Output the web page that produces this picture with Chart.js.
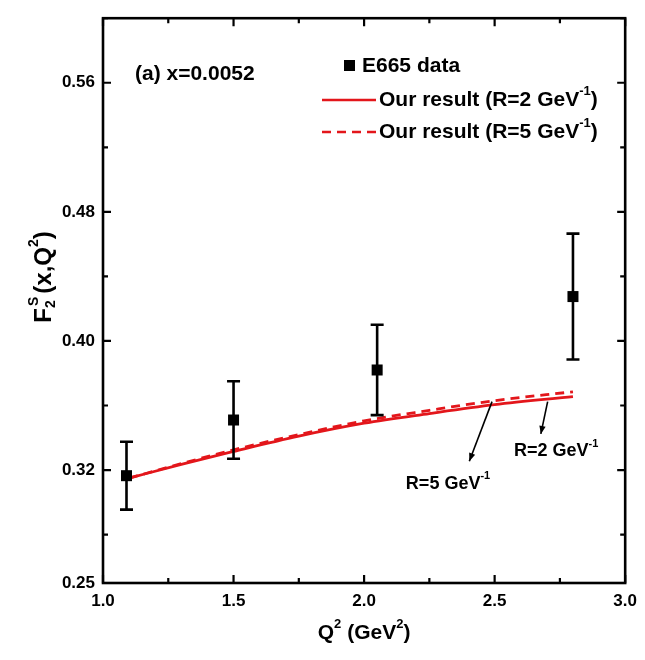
<!DOCTYPE html>
<html><head><meta charset="utf-8">
<script src="https://cdn.jsdelivr.net/npm/chart.js@4/dist/chart.umd.min.js"></script>
<style>html,body{margin:0;padding:0;background:#fff}#wrap{width:645px;height:660px;position:relative}</style>
</head><body><div id="wrap"><canvas id="c" width="645" height="660"></canvas></div>
<script>
// ---- data ----
const q2Data = [1.09, 1.5, 2.05, 2.8];
const f2Data = [0.3165, 0.351, 0.382, 0.4275];
const f2Err  = [0.021, 0.024, 0.028, 0.039];
const q2Curve = [1.1, 1.3, 1.5, 1.75, 2.0, 2.25, 2.5, 2.8];
const f2R2    = [0.315, 0.3235, 0.3315, 0.341, 0.349, 0.355, 0.3605, 0.3655];
const f2R5    = [0.315, 0.324, 0.3325, 0.342, 0.3505, 0.357, 0.363, 0.3685];
const xTicks  = [1.0, 1.25, 1.5, 1.75, 2.0, 2.25, 2.5, 2.75, 3.0];
const xLabels = [1.0, 1.5, 2.0, 2.5, 3.0];
const yTicks  = [0.25, 0.28, 0.32, 0.36, 0.40, 0.44, 0.48, 0.52, 0.56, 0.60];
const yLabels = [0.25, 0.32, 0.40, 0.48, 0.56];
const seriesNames = ['E665 data', 'Our result (R=2 GeV', 'Our result (R=5 GeV'];
const panelLabel = '(a) x=0.0052';

const RED = '#e3161b';
const FONT = '"Liberation Sans", Arial, sans-serif';
const isIn = (arr, v) => arr.some(a => Math.abs(a - v) < 1e-9);

function drawRich(ctx, parts, x, y, size, align) {
  ctx.save();
  ctx.textBaseline = 'middle';
  ctx.textAlign = 'left';
  let w = 0;
  const meas = parts.map(p => {
    const fs = (p.sup || p.sub) ? Math.round(size * 0.6) : size;
    ctx.font = 'bold ' + fs + 'px ' + FONT;
    return {fs, mw: ctx.measureText(p.t).width};
  });
  parts.forEach((p, i) => { if (!p.stack) w += meas[i].mw; });
  let cx = align === 'center' ? x - w / 2 : x;
  parts.forEach((p, i) => {
    const m = meas[i];
    ctx.font = 'bold ' + m.fs + 'px ' + FONT;
    let dy = 0;
    if (p.sup) dy = -size * 0.42;
    if (p.sub) dy = size * 0.3;
    ctx.fillText(p.t, cx + (p.dx || 0), y + dy);
    if (!p.stack) cx += m.mw;
  });
  ctx.restore();
}

function arrow(ctx, x1, y1, x2, y2) {
  ctx.save();
  ctx.strokeStyle = '#000'; ctx.fillStyle = '#000'; ctx.lineWidth = 1.6;
  ctx.beginPath(); ctx.moveTo(x1, y1); ctx.lineTo(x2, y2); ctx.stroke();
  const a = Math.atan2(y2 - y1, x2 - x1), L = 8, W = 3.2;
  ctx.beginPath();
  ctx.moveTo(x2, y2);
  ctx.lineTo(x2 - L * Math.cos(a) + W * Math.sin(a), y2 - L * Math.sin(a) - W * Math.cos(a));
  ctx.lineTo(x2 - L * Math.cos(a) - W * Math.sin(a), y2 - L * Math.sin(a) + W * Math.cos(a));
  ctx.closePath(); ctx.fill();
  ctx.restore();
}

const decor = {
  id: 'decor',
  afterDatasetsDraw(chart) {
    const ctx = chart.ctx, xs = chart.scales.x, ys = chart.scales.y;
    const a = chart.chartArea;
    ctx.save();
    // error bars + markers
    ctx.strokeStyle = '#000'; ctx.lineWidth = 2.6;
    q2Data.forEach((q, i) => {
      const px = xs.getPixelForValue(q);
      const top = ys.getPixelForValue(f2Data[i] + f2Err[i]);
      const bot = ys.getPixelForValue(f2Data[i] - f2Err[i]);
      ctx.beginPath();
      ctx.moveTo(px, top); ctx.lineTo(px, bot);
      ctx.moveTo(px - 6.5, top); ctx.lineTo(px + 6.5, top);
      ctx.moveTo(px - 6.5, bot); ctx.lineTo(px + 6.5, bot);
      ctx.stroke();
      ctx.fillStyle = '#000';
      ctx.fillRect(px - 5.5, ys.getPixelForValue(f2Data[i]) - 5.5, 11, 11);
    });
    // frame
    ctx.lineWidth = 2.6;
    ctx.strokeRect(a.left, a.top, a.right - a.left, a.bottom - a.top);
    // inward ticks on all four sides
    ctx.lineWidth = 2.2;
    xTicks.forEach(v => {
      const px = xs.getPixelForValue(v);
      const L = isIn(xLabels, v) ? 8 : 5;
      ctx.beginPath();
      ctx.moveTo(px, a.bottom); ctx.lineTo(px, a.bottom - L);
      ctx.moveTo(px, a.top); ctx.lineTo(px, a.top + L);
      ctx.stroke();
    });
    yTicks.forEach(v => {
      const py = ys.getPixelForValue(v);
      const L = isIn(yLabels, v) && v > 0.26 ? 8 : 5;
      ctx.beginPath();
      ctx.moveTo(a.left, py); ctx.lineTo(a.left + L, py);
      ctx.moveTo(a.right, py); ctx.lineTo(a.right - L, py);
      ctx.stroke();
    });
    ctx.fillStyle = '#000';
    // panel label
    drawRich(ctx, [{t: panelLabel}], 135, 74, 21, 'left');
    // legend
    ctx.fillRect(344, 60, 11, 11);
    drawRich(ctx, [{t: seriesNames[0]}], 362, 66, 21, 'left');
    ctx.strokeStyle = RED; ctx.lineWidth = 2.6;
    ctx.beginPath(); ctx.moveTo(322, 100); ctx.lineTo(376, 100); ctx.stroke();
    drawRich(ctx, [{t: seriesNames[1]}, {t: '-1', sup: true}, {t: ')'}], 379, 100, 21, 'left');
    ctx.setLineDash([9, 6]);
    ctx.beginPath(); ctx.moveTo(322, 132); ctx.lineTo(376, 132); ctx.stroke();
    ctx.setLineDash([]);
    drawRich(ctx, [{t: seriesNames[2]}, {t: '-1', sup: true}, {t: ')'}], 379, 132, 21, 'left');
    // annotations with arrows (placed in data coordinates)
    arrow(ctx, xs.getPixelForValue(2.703), ys.getPixelForValue(0.3624), xs.getPixelForValue(2.677), ys.getPixelForValue(0.3424));
    arrow(ctx, xs.getPixelForValue(2.49), ys.getPixelForValue(0.3624), xs.getPixelForValue(2.403), ys.getPixelForValue(0.3255));
    drawRich(ctx, [{t: 'R=2 GeV'}, {t: '-1', sup: true}], xs.getPixelForValue(2.574), ys.getPixelForValue(0.3315), 18, 'left');
    drawRich(ctx, [{t: 'R=5 GeV'}, {t: '-1', sup: true}], xs.getPixelForValue(2.16), ys.getPixelForValue(0.3115), 18, 'left');
    // axis titles
    drawRich(ctx, [{t: 'Q'}, {t: '2', sup: true}, {t: ' (GeV'}, {t: '2', sup: true}, {t: ')'}], (a.left + a.right) / 2, 633, 21, 'center');
    ctx.save();
    ctx.translate(44, 277);
    ctx.rotate(-Math.PI / 2);
    drawRich(ctx, [{t: 'F'}, {t: 'S', sup: true, stack: true, dx: 2}, {t: '2', sub: true}, {t: ' (x,Q'}, {t: '2', sup: true}, {t: ')'}], 0, 0, 24, 'center');
    ctx.restore();
    ctx.restore();
  }
};

new Chart(document.getElementById('c'), {
  type: 'scatter',
  data: {
    datasets: [
      {label: seriesNames[0], data: q2Data.map((q, i) => ({x: q, y: f2Data[i]})), pointRadius: 0, showLine: false, backgroundColor: '#000'},
      {label: seriesNames[1], data: q2Curve.map((q, i) => ({x: q, y: f2R2[i]})), showLine: true, pointRadius: 0, borderColor: RED, borderWidth: 2.8, cubicInterpolationMode: 'monotone'},
      {label: seriesNames[2], data: q2Curve.map((q, i) => ({x: q, y: f2R5[i]})), showLine: true, pointRadius: 0, borderColor: RED, borderWidth: 2.8, borderDash: [9, 6], cubicInterpolationMode: 'monotone'}
    ]
  },
  options: {
    responsive: false, animation: false, devicePixelRatio: 1,
    layout: {padding: {left: 0, right: 16, top: 7, bottom: 0}},
    plugins: {legend: {display: false}, tooltip: {enabled: false}},
    scales: {
      x: {
        type: 'linear', min: 1, max: 3,
        afterBuildTicks: s => { s.ticks = xTicks.map(v => ({value: v})); },
        afterFit: s => { s.height = 77; },
        grid: {display: false, drawTicks: false}, border: {display: false},
        ticks: {autoSkip: false, maxRotation: 0, padding: 8, color: '#000',
          font: {family: FONT, size: 17, weight: 'bold'},
          callback: v => isIn(xLabels, v) ? v.toFixed(1) : ''}
      },
      y: {
        type: 'linear', min: 0.25, max: 0.60,
        afterBuildTicks: s => { s.ticks = yTicks.map(v => ({value: v})); },
        afterFit: s => { s.width = 103; },
        grid: {display: false, drawTicks: false}, border: {display: false},
        ticks: {autoSkip: false, padding: 8, color: '#000',
          font: {family: FONT, size: 17, weight: 'bold'},
          callback: v => isIn(yLabels, v) ? v.toFixed(2) : ''}
      }
    }
  },
  plugins: [decor]
});
</script></body></html>
